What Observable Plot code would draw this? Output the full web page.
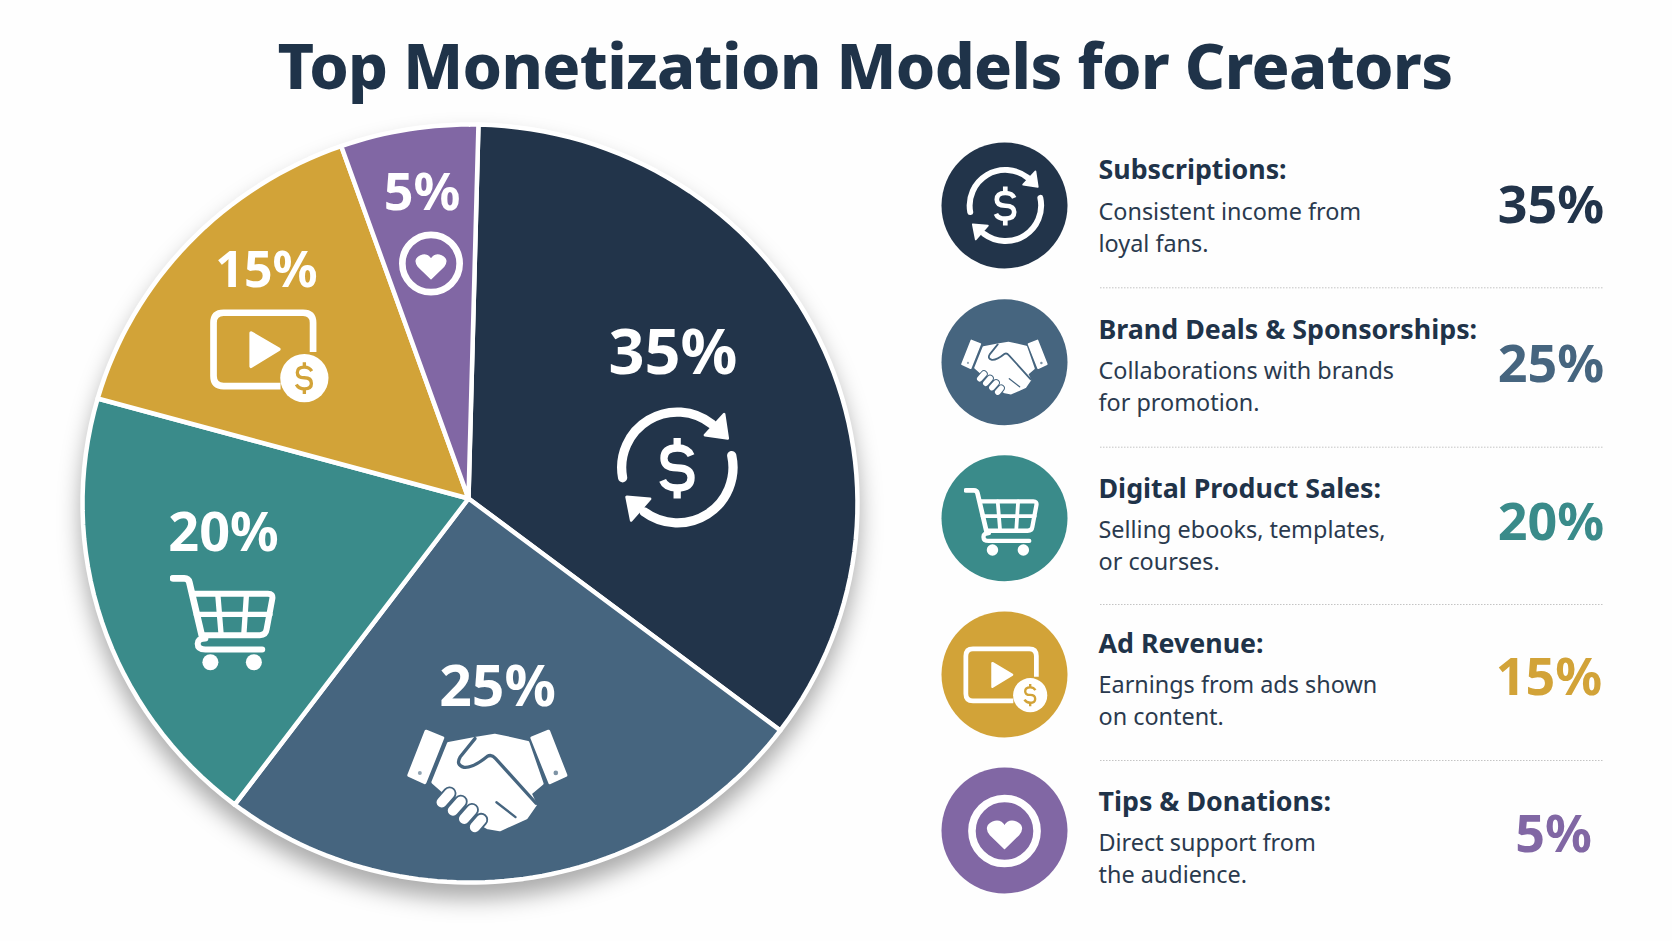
<!DOCTYPE html>
<html><head><meta charset="utf-8">
<script src="https://cdn.jsdelivr.net/npm/d3@7"></script>
<script src="https://cdn.jsdelivr.net/npm/@observablehq/plot@0.6"></script>
<style>
html,body{margin:0;padding:0;background:#fefefe;}
#page{position:relative;width:1672px;height:941px;overflow:hidden;font-family:"Noto Sans",sans-serif;}
#page h1{position:absolute;left:0;width:1730px;top:21px;margin:0;text-align:center;font:800 62.8px/88px "Noto Sans",sans-serif;letter-spacing:-0.6px;color:#1f3349;white-space:nowrap;}
#page svg{position:absolute;left:0;top:0;background:transparent;overflow:visible;}
</style></head><body><div id="page"><h1>Top Monetization Models for Creators</h1></div>
<script>
const titleText = "Top Monetization Models for Creators";
const models = ["Subscriptions","Brand Deals & Sponsorships","Digital Product Sales","Ad Revenue","Tips & Donations"];
const shares = [35,25,20,15,5];
// share of the circle each slice actually occupies in the picture, in percent
const drawnShares = [34.87,25.17,19.08,15.14,5.74];
const sliceColors = ["#22344a","#46657f","#3a8b8a","#d2a338","#8167a4"];
const descriptionFirstLines = ["Consistent income from","Collaborations with brands","Selling ebooks, templates,","Earnings from ads shown","Direct support from"];
const descriptionSecondLines = ["loyal fans.","for promotion.","or courses.","on content.","the audience."];

/* ---------- icons ---------- */
const dataUri = s => "data:image/svg+xml;utf8," + encodeURIComponent(s);
const svgIcon = (vb, body) => dataUri(`<svg xmlns="http://www.w3.org/2000/svg" viewBox="${vb}">${body}</svg>`);
const iconMakers = [
  () => svgIcon("108 45 366 372", `<g fill="none" stroke="#fff" stroke-width="28" stroke-linecap="round">
    <path d="M125,262A168,168 0 0 1 395,100"/><path d="M455,195A168,168 0 0 1 190,365"/>
    <path stroke-width="22" stroke-linecap="butt" d="M332,195Q322,172 290,172Q250,172 250,203Q250,232 290,232Q332,232 332,262Q332,293 290,293Q255,293 246,270"/>
    <path stroke-width="22" stroke-linecap="butt" d="M290,142V172M290,293V325"/></g>
    <g fill="#fff" stroke="#fff" stroke-width="8" stroke-linejoin="round"><path d="M432,70L443,143L374,133Z"/><path d="M137,320L208,326L151,391Z"/></g>`),
  bg => svgIcon("76 320 494 318", `<g fill="#fff" stroke="#fff" stroke-width="10" stroke-linejoin="round">
    <path d="M137,330L187,350L133,485L85,463Z"/><path d="M458,350L508,330L560,463L512,485Z"/>
    <path d="M205,367L285,352L345,342L392,352L445,364L488,488L452,518L468,552L440,592L400,610L360,628L325,622L285,600L240,560L190,512L158,484Z"/></g>
    <g fill="none" stroke-linecap="round" stroke-linejoin="round">
    <path stroke="${bg}" stroke-width="10" d="M285,352L240,408Q226,432 252,439Q278,442 322,406Q335,398 347,412L470,548"/>
    <path stroke="${bg}" stroke-width="7" d="M350,545L408,590"/>
    <g stroke="${bg}" stroke-width="42"><path d="M184,545L208,518M218,570L242,543M252,595L276,568M285,620L304,598"/></g>
    <g stroke="#fff" stroke-width="31"><path d="M184,545L208,518M218,570L242,543M252,595L276,568M285,620L304,598"/></g></g>
    <circle cx="118" cy="456" r="6" fill="${bg}" opacity=".6"/><circle cx="530" cy="456" r="7" fill="${bg}" opacity=".7"/>`),
  () => svgIcon("28 38 320 290", `<g fill="none" stroke="#fff" stroke-width="18" stroke-linecap="round" stroke-linejoin="round">
    <path stroke-width="20" d="M38,52H72Q84,52 87,64L125,226"/><path d="M135,232Q112,232 112,248Q112,265 135,265H305"/>
    <path d="M98,98H322Q338,98 335,114L318,205Q316,222 298,222H125"/>
    <path stroke-width="16" d="M172,98L182,220M258,98L250,220M108,160H328"/></g>
    <circle cx="150" cy="303" r="24" fill="#fff"/><circle cx="280" cy="303" r="24" fill="#fff"/>`),
  bg => svgIcon("448 626 358 282", `<path fill="none" stroke="#fff" stroke-width="20" d="M757,755V668Q757,638 727,638H490Q460,638 460,668V827Q460,857 490,857H660"/>
    <path d="M572,698L655,747L572,798Z" fill="#fff" stroke="#fff" stroke-width="10" stroke-linejoin="round"/>
    <circle cx="731" cy="833" r="72" fill="#fff"/>
    <g fill="none" stroke="${bg}" stroke-width="10"><path d="M753,812Q746,800 731,800Q710,800 710,816Q710,832 731,832Q752,832 752,849Q752,865 731,865Q714,865 707,852"/><path d="M731,786V800M731,865V880"/></g>`),
  () => svgIcon("1012 389 198 198", `<circle cx="1111" cy="488" r="86" fill="none" stroke="#fff" stroke-width="20"/>
    <path fill="#fff" stroke="#fff" stroke-width="4" stroke-linejoin="round" d="M1111,534L1073,497Q1057,476 1080,465Q1100,457 1111,476Q1122,457 1142,465Q1165,476 1149,497Z"/>`)
];

/* ---------- pie: wedges on a polar (azimuthal) projection ---------- */
const apex = [468, 498], discCentre = [469.5, 503], radii = [387.5, 379];
const firstAngle = 1.25;
const polar = d3.geoAzimuthalEquidistant().rotate([0,-90]).scale(2000/Math.PI).translate([0,0]).precision(0.2);
const warp = d3.geoTransform({point(x,y){
  const u = x/1000, v = y/1000, t = Math.hypot(u,v);
  this.stream.point(apex[0] + radii[0]*u + (discCentre[0]-apex[0])*t, apex[1] + radii[1]*v + (discCentre[1]-apex[1])*t);
}});
const pieProjection = {stream: s => polar.stream(warp.stream(s))};
let cursor = firstAngle;
const wedges = models.map((name,i) => {
  const a0 = cursor, a1 = cursor + drawnShares[i]*3.6; cursor = a1;
  return {type:"Feature", properties:{name}, geometry:{type:"Polygon", coordinates:[[[0,90],[180-a0,0],[180-a1,0],[0,90]]]}};
});
const colorScale = {domain:models, range:sliceColors};
const pie = Plot.plot({
  width:1672, height:941, margin:0, projection:pieProjection, color:colorScale,
  style:{background:"transparent"},
  marks:[Plot.geo(wedges,{fill:d=>d.properties.name, stroke:"#fff", strokeWidth:4.5, strokeLinejoin:"round",
    imageFilter:"drop-shadow(0px 14px 11px rgba(0,0,0,.33))"})]
});

/* ---------- labels, icons and the key ---------- */
const layout = {
  pieLabel:[[672.5,373],[497,705],[223,550],[266,286.5],[421.5,209]],
  pieLabelSize:[63,57,54,50,52],
  pieIcon:[[677,467,123],[487,780,163],[222.6,621.6,107],[269,355.5,120],[430.5,263,66]],
  keyCentre:[205,361.7,517.7,674,830], keyX:1004, keyR:63,
  keyIcon:[[1005,205,79],[1004,366.5,88],[1001,521,76],[1005,679,85],[1004,830.5,75]],
  titleY:[178.5,338.5,497.5,652,810], descY:[251.5,410.5,569.5,724.5,882.5], pctY:[222.5,381,539,694,851],
  pctX:[1550.5,1550.5,1550.5,1548.5,1553],
  sepY:[287.3,446.7,604,760]
};
const rows = models.map((name,i)=>({name,share:shares[i],
  first:descriptionFirstLines[i],second:descriptionSecondLines[i],i}));
const img = (pos) => rows.map(r=>({src:iconMakers[r.i](sliceColors[r.i]),x:pos[r.i][0],y:pos[r.i][1],w:pos[r.i][2]}));
const iconMarks = pos => img(pos).map(d=>Plot.image([d],{x:"x",y:"y",src:"src",width:d.w,height:d.w}));
const textX = 1098, font = "Noto Sans";
const overlay = Plot.plot({
  width:1672, height:941, margin:0, axis:null,
  x:{domain:[0,1672],range:[0,1672]}, y:{domain:[0,941],range:[0,941]}, color:colorScale,
  style:{background:"transparent"},
  marks:[
    Plot.text(rows,{x:r=>layout.pieLabel[r.i][0],y:r=>layout.pieLabel[r.i][1],text:r=>r.share+"%",fill:"#fff",fontFamily:font,fontWeight:700,fontSize:r=>layout.pieLabelSize[r.i],lineAnchor:"bottom"}),
    ...iconMarks(layout.pieIcon),
    Plot.dot(rows,{x:()=>layout.keyX,y:r=>layout.keyCentre[r.i],r:layout.keyR,fill:"name"}),
    ...iconMarks(layout.keyIcon),
    Plot.text(rows,{x:()=>textX,y:r=>layout.titleY[r.i],text:r=>r.name+":",textAnchor:"start",lineAnchor:"bottom",fill:"#1f3349",fontFamily:font,fontWeight:700,fontSize:26.8}),
    Plot.text(rows,{x:()=>textX,y:r=>layout.descY[r.i],text:r=>r.first+"\n"+r.second,textAnchor:"start",lineAnchor:"bottom",lineHeight:1.36,fill:"#2a3a4e",fontFamily:font,fontWeight:400,fontSize:23.4}),
    Plot.text(rows,{x:r=>layout.pctX[r.i],y:r=>layout.pctY[r.i],text:r=>r.share+"%",fill:"name",lineAnchor:"bottom",fontFamily:font,fontWeight:700,fontSize:52}),
    Plot.ruleY(layout.sepY,{x1:textX+2,x2:1603,stroke:"#c4c4c4",strokeWidth:1,strokeDasharray:"1.5 1.5"})
  ]
});
const page = document.getElementById("page");
page.append(pie, overlay);
</script></body></html>
